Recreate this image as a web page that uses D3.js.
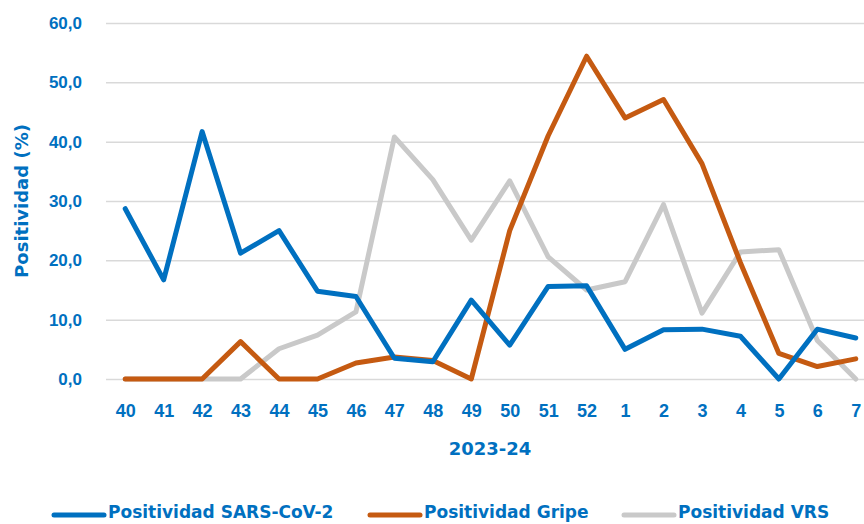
<!DOCTYPE html>
<html>
<head>
<meta charset="utf-8">
<script src="https://cdn.jsdelivr.net/npm/d3@7"></script>
<style>
  body { margin: 0; background: #fff; }
  svg { display: block; font-family: "DejaVu Sans", sans-serif; }
</style>
</head>
<body>
<div id="graf"></div>
<script>
// datos
const semanas = ['40','41','42','43','44','45','46','47','48','49','50','51','52','1','2','3','4','5','6','7']
const sarsCov2 = [28.7, 16.7, 41.7, 21.2, 25.0, 14.8, 13.9, 3.5, 2.9, 13.3, 5.7, 15.6, 15.7, 5.0, 8.3, 8.4, 7.2, 0.0, 8.4, 6.9]
const gripe    = [0.0, 0.0, 0.0, 6.3, 0.0, 0.0, 2.7, 3.7, 3.1, 0.0, 25.0, 41.0, 54.4, 44.0, 47.1, 36.3, 19.6, 4.3, 2.1, 3.4]
const vrs      = [0.0, 0.0, 0.0, 0.0, 5.1, 7.4, 11.3, 40.8, 33.6, 23.4, 33.4, 20.6, 15.0, 16.4, 29.4, 11.1, 21.4, 21.8, 6.5, 0.0]
const yTicks = [0, 10, 20, 30, 40, 50, 60]

const series = [
  { nombre: 'Positividad SARS-CoV-2', valores: sarsCov2, color: '#0070C0' },
  { nombre: 'Positividad Gripe', valores: gripe, color: '#C55A11' },
  { nombre: 'Positividad VRS', valores: vrs, color: '#C9C9C9' }
]

// configuración
const ancho_total = 864, alto_total = 524
const margins = { top: 23, left: 106, right: -11, bottom: 145 }
const ancho = ancho_total - margins.left - margins.right
const alto = alto_total - margins.top - margins.bottom
const azul = '#0070C0'

const svg = d3.select('#graf').append('svg')
  .attr('width', ancho_total)
  .attr('height', alto_total)

const g = svg.append('g')
  .attr('transform', `translate(${margins.left}, ${margins.top})`)

const x = d3.scalePoint()
  .domain(semanas)
  .range([0, ancho])
  .padding(0.5)

const y = d3.scaleLinear()
  .domain([0, 60])
  .range([alto, 0])

// grid + eje y
const yAxis = g.append('g')
  .call(d3.axisLeft(y).tickValues(yTicks).tickSize(-ancho).tickPadding(24).tickFormat(d => d3.format('.1f')(d).replace('.', ',')))
yAxis.select('.domain').remove()
yAxis.selectAll('line').attr('stroke', '#D9D9D9').attr('stroke-width', 1.5)
yAxis.selectAll('text')
  .attr('fill', azul)
  .style('font-size', '17px')
  .style('font-weight', 700)

// eje x
const xAxis = g.append('g')
  .attr('transform', `translate(0, ${alto})`)
  .call(d3.axisBottom(x).tickSize(0).tickPadding(25))
xAxis.select('.domain').remove()
xAxis.selectAll('text')
  .attr('fill', azul)
  .style('font-size', '18px')
  .style('font-weight', 700)

// líneas
const linea = d3.line()
  .x((d, i) => x(semanas[i]))
  .y(d => y(d))

g.selectAll('path.serie')
  .data(series.slice().reverse())
  .enter()
  .append('path')
  .attr('class', 'serie')
  .attr('d', d => linea(d.valores))
  .attr('fill', 'none')
  .attr('stroke', d => d.color)
  .attr('stroke-width', 5)
  .attr('stroke-linejoin', 'round')
  .attr('stroke-linecap', 'round')

// títulos
svg.append('text')
  .attr('x', 490)
  .attr('y', 455)
  .attr('text-anchor', 'middle')
  .attr('fill', azul)
  .style('font-size', '18px')
  .style('font-weight', 700)
  .text('2023-24')

svg.append('text')
  .attr('transform', 'translate(28, 201) rotate(-90)')
  .attr('text-anchor', 'middle')
  .attr('fill', azul)
  .style('font-size', '18px')
  .style('font-weight', 700)
  .text('Positividad (%)')

// leyenda
const leyendaX = [52, 368, 622]
const leyenda = svg.selectAll('g.leyenda')
  .data(series)
  .enter()
  .append('g')
  .attr('class', 'leyenda')
  .attr('transform', (d, i) => `translate(${leyendaX[i]}, 515)`)

leyenda.append('line')
  .attr('x1', 2).attr('x2', 52)
  .attr('stroke', d => d.color)
  .attr('stroke-width', 5)
  .attr('stroke-linecap', 'round')

leyenda.append('text')
  .attr('x', 56)
  .attr('y', 3)
  .attr('fill', azul)
  .style('font-size', '17px')
  .style('font-weight', 700)
  .text(d => d.nombre)
</script>
</body>
</html>
